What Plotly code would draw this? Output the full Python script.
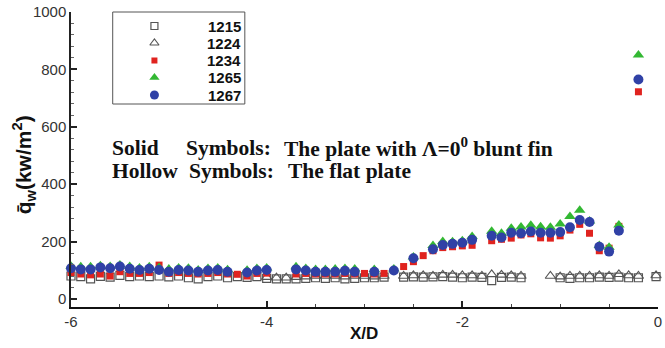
import plotly.graph_objects as go

# ---------------- data ----------------
X_FILLED = [-6.0, -5.9, -5.8, -5.7, -5.6, -5.5, -5.4, -5.3, -5.2, -5.1,
            -5.0, -4.9, -4.8, -4.7, -4.6, -4.5, -4.4, -4.3, -4.2, -4.1,
            -4.0, -3.9, -3.8, -3.7, -3.6, -3.5, -3.4, -3.3, -3.2, -3.1,
            -3.0, -2.9, -2.8, -2.7, -2.6, -2.5, -2.4, -2.3, -2.2, -2.1,
            -2.0, -1.9, -1.8, -1.7, -1.6, -1.5, -1.4, -1.3, -1.2, -1.1,
            -1.0, -0.9, -0.8, -0.7, -0.6, -0.5, -0.4, -0.2]

Q_1234 = [92, 87, 84, 87, 80, 95, 89, 89, 92, 118,
          89, 92, 89, 87, 89, 92, 87, 86, 80, 89,
          90, None, None, 87, 89, 87, 87, 87, 89, 87,
          89, 87, 89, None, 113, 130, 151, 168, 179, 182,
          185, 187, None, 203, 208, 212, 223, 227, 213, 212,
          220, 240, 260, 229, 168, 177, 253, 722]

Q_1265 = [114, 112, 112, 116, 113, 118, 113, 108, 112, 110,
          104, 108, 107, 101, 106, 108, 102, None, 100, 106,
          108, None, None, 112, 106, 103, 103, 104, 106, 104,
          None, 103, None, 104, None, 146, None, 186, 200, 199,
          203, 218, None, 236, 229, 246, 251, 257, 252, 250,
          261, 287, 309, 272, 186, 180, 258, 850]

Q_1267 = [107, 103, 103, 110, 107, 113, 105, 101, 105, 101,
          95, 101, 99, 95, 99, 101, 95, None, 92, 99,
          101, None, None, 103, 99, 95, 95, 95, 98, 95,
          None, 95, None, 99, None, 142, None, 173, 188, 192,
          196, 206, None, 220, 214, 231, 229, 235, 231, 231,
          233, 250, 275, 268, 182, 165, 238, 765]

X_1215 = [-6.0, -5.9, -5.8, -5.7, -5.6, -5.5, -5.4, -5.3, -5.2, -5.1,
          -5.0, -4.9, -4.8, -4.7, -4.6, -4.5, -4.4, -4.3, -4.2, -4.1,
          -4.0, -3.9, -3.8, -3.7, -3.6, -3.5, -3.4, -3.3, -3.2, -3.1,
          -3.0, -2.9, -2.8, -2.6, -2.5, -2.4, -2.3, -2.2, -2.1,
          -2.0, -1.9, -1.8, -1.7, -1.6, -1.5, -1.4,
          -1.0, -0.9, -0.8, -0.7, -0.6, -0.5, -0.4, -0.3, -0.2, -0.02]
Q_1215 = [80, 78, 70, 79, 76, 82, 78, 80, 78, 80,
          77, 80, 74, 70, 78, 80, 74, 78, 75, 78,
          72, 70, 70, 70, 72, 74, 72, 74, 70, 72,
          74, 74, 76, 76, 77, 76, 77, 78, 76,
          74, 76, 75, 64, 75, 76, 74,
          74, 72, 74, 74, 76, 75, 76, 74, 74, 78]

X_1224 = [-4.0, -3.9, -3.8, -3.7, -3.6, -3.5, -3.4, -3.3, -3.2, -3.1,
          -3.0, -2.9, -2.8, -2.6, -2.5, -2.4, -2.3, -2.2, -2.1,
          -2.0, -1.9, -1.8, -1.7, -1.6, -1.5, -1.4,
          -1.1, -1.0, -0.9, -0.8, -0.7, -0.6, -0.5, -0.4, -0.3, -0.2, -0.02]
Q_1224 = [76, 74, 74, 76, 78, 80, 80, 80, 78, 80,
          80, 78, 80, 80, 82, 82, 80, 84, 84,
          82, 82, 80, 86, 84, 82, 80,
          80, 78, 80, 80, 80, 82, 80, 86, 82, 80, 82]

SERIES_NAMES = ["1215", "1224", "1234", "1265", "1267"]
X_TICKS = [-6, -4, -2, 0]
Y_TICKS = [0, 200, 400, 600, 800, 1000]

# ---------------- figure ----------------
W, H = 665, 348
ML, MR, MT, MB = 71, 3, 12, 41
PW, PH = W - ML - MR, H - MT - MB


def px(x):
    return (x - ML) / PW


def py(y):
    return (H - MB - y) / PH


hollow = "#555555"
STYLES = [
    dict(symbol="square-open", size=8, color=hollow, line=dict(width=1.2)),
    dict(symbol="triangle-up-open", size=9, color=hollow, line=dict(width=1.1)),
    dict(symbol="square", size=7, color="#e0231f"),
    dict(symbol="triangle-up", size=10, color="#33b833"),
    dict(symbol="circle", size=10, color="#3041a6"),
]
DATA = [(X_1215, Q_1215), (X_1224, Q_1224), (X_FILLED, Q_1234),
        (X_FILLED, Q_1265), (X_FILLED, Q_1267)]

fig = go.Figure()
for name, (xs, ys), st in zip(SERIES_NAMES, DATA, STYLES):
    fig.add_trace(go.Scatter(x=xs, y=ys, mode="markers", name=name, marker=st,
                             cliponaxis=False, showlegend=False))

# legend (drawn on a hidden overlay axis whose range equals the paper box)
LEG_ROWS = [26, 43, 60.5, 77.5, 95]
for name, st, ry in zip(SERIES_NAMES, STYLES, LEG_ROWS):
    s = dict(st)
    s["size"] = st["size"] - 1
    fig.add_trace(go.Scatter(x=[px(155)], y=[py(ry)], xaxis="x2", yaxis="y2",
                             mode="markers", marker=s, showlegend=False,
                             hoverinfo="skip", cliponaxis=False))

tickfont = dict(family="Liberation Sans, Arial", size=15, color="#333333")
fig.update_layout(
    xaxis=dict(range=[-6, 0], tickvals=X_TICKS, ticktext=[str(v) for v in X_TICKS],
               ticks="inside", ticklen=6, tickwidth=1.5, tickcolor="#222",
               minor=dict(dtick=0.5, tick0=0, ticks="inside", ticklen=3, tickcolor="#444", tickwidth=1),
               showline=True, linecolor="#111", linewidth=2, showgrid=False, zeroline=False,
               tickfont=tickfont, ticklabeloverflow="allow"),
    yaxis=dict(range=[-28, 1000], tickvals=Y_TICKS, ticktext=[str(v) for v in Y_TICKS],
               ticks="inside", ticklen=6, tickwidth=1.5, tickcolor="#222",
               minor=dict(dtick=40, tick0=0, ticks="inside", ticklen=3, tickcolor="#666", tickwidth=1),
               showline=True, linecolor="#222", linewidth=1.5, showgrid=False, zeroline=False,
               tickfont=tickfont),
    xaxis2=dict(range=[0, 1], overlaying="x", visible=False, fixedrange=True),
    yaxis2=dict(range=[0, 1], overlaying="y", visible=False, fixedrange=True),
)

ann = []
for name, ry in zip(SERIES_NAMES, LEG_ROWS):
    ann.append(dict(text=name, x=px(244), y=py(ry), xref="paper", yref="paper",
                    xanchor="right", yanchor="middle", showarrow=False,
                    font=dict(family="Liberation Sans, Arial", size=15, color="#111", weight="bold")))

serif = dict(family="Liberation Serif, Times New Roman", size=21.5, color="#111", weight="bold")
for txt, x0, y0 in [("Solid", 110, 148), ("Symbols:", 185, 148),
                    ("The plate with \u039b=0<sup>0</sup> blunt fin", 283, 148),
                    ("Hollow", 110, 171), ("Symbols:", 188, 171), ("The flat plate", 287, 171)]:
    ann.append(dict(text=txt, x=px(x0), y=py(y0), xref="paper", yref="paper",
                    xanchor="left", yanchor="middle", showarrow=False, font=serif))
ann.append(dict(text="X/D", x=px(366), y=py(333), xref="paper", yref="paper",
                xanchor="center", yanchor="middle", showarrow=False,
                font=dict(family="Liberation Sans, Arial", size=17, color="#111", weight="bold")))
ann.append(dict(text="q\u0304<sub>w</sub>(kw/m<sup>2</sup>)", x=px(23), y=py(165), xref="paper", yref="paper",
                xanchor="center", yanchor="middle", showarrow=False, textangle=-90,
                font=dict(family="Liberation Sans, Arial", size=21, color="#111", weight="bold")))

fig.update_layout(
    width=W, height=H, margin=dict(l=ML, r=MR, t=MT, b=MB),
    paper_bgcolor="white", plot_bgcolor="white",
    showlegend=False,
    annotations=ann,
    shapes=[dict(type="rect", xref="paper", yref="paper",
                 x0=px(113), x1=px(246), y0=py(104), y1=py(12),
                 line=dict(color="#555", width=1), fillcolor="rgba(0,0,0,0)", layer="above")],
)

fig.write_html("out.html")
